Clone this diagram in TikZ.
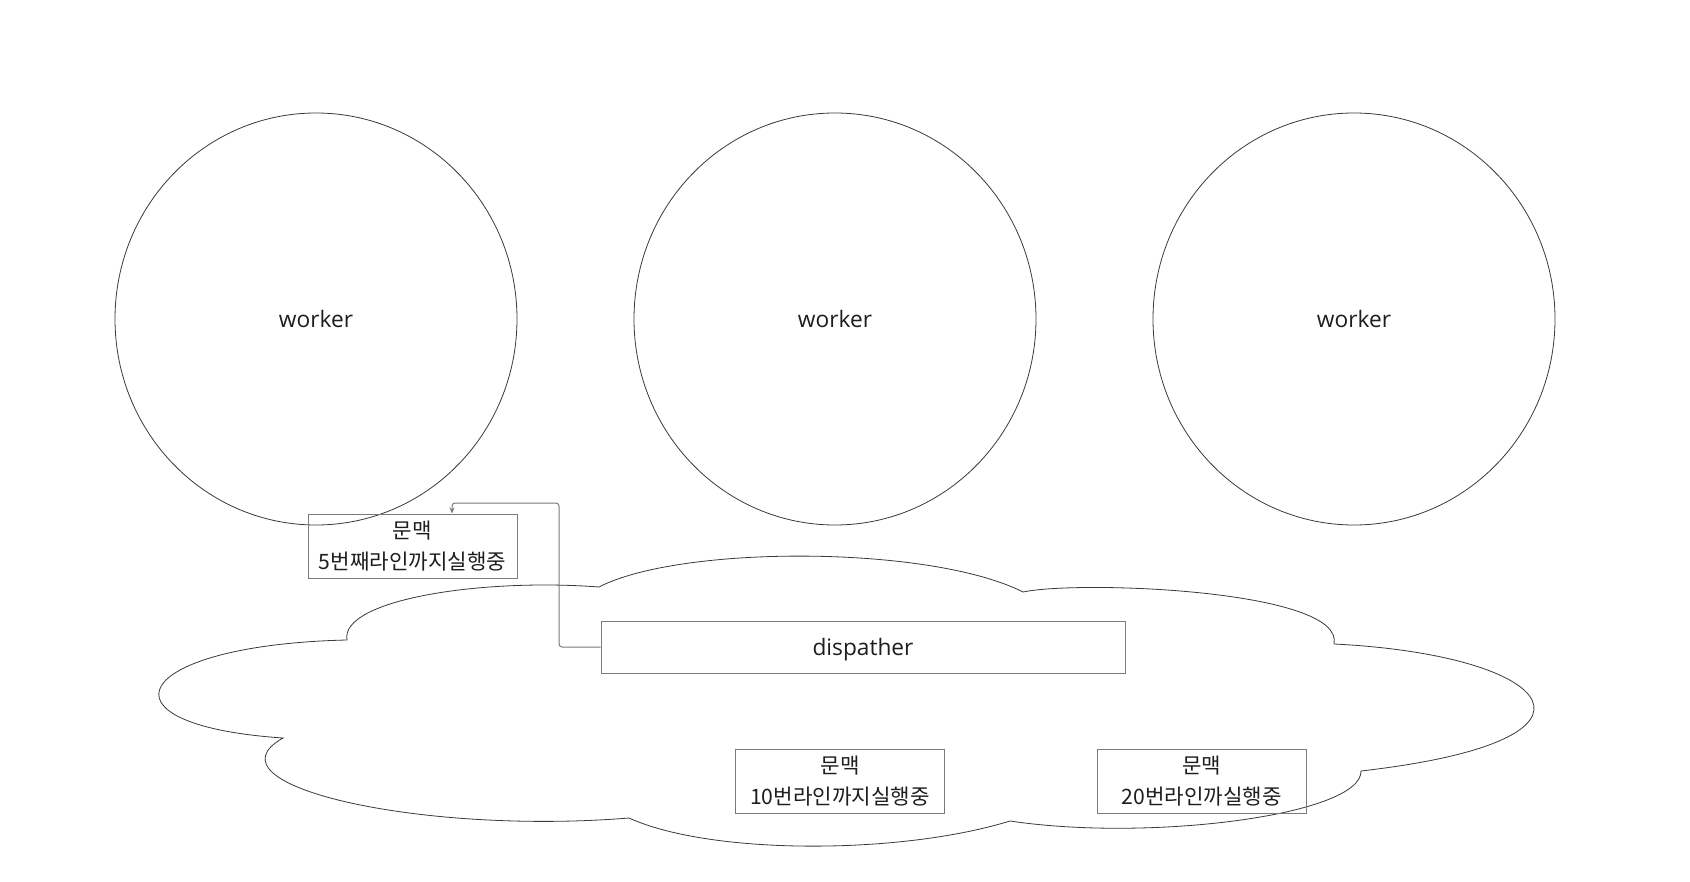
\documentclass[tikz,border=0pt]{standalone}
\usepackage{fontspec}
\setmainfont{Open Sans}
\newfontfamily\kr{Noto Sans CJK KR}
\usetikzlibrary{shapes.geometric,arrows.meta}
\definecolor{txt}{HTML}{1E1E1E}
\definecolor{edge}{HTML}{3A3A3A}
\definecolor{boxline}{HTML}{7A7A7A}
\tikzset{
  worker/.style={ellipse, draw=edge, line width=0.8pt, minimum width=402pt, minimum height=412pt, inner sep=0pt, text=txt, font=\fontsize{22.7}{27}\selectfont},
  ctxbox/.style={rectangle, draw=boxline, line width=1.0pt, minimum width=209pt, minimum height=64pt, inner sep=0pt, align=center, text=txt, font=\kr\fontsize{21.2}{31}\selectfont},
  dispbox/.style={rectangle, draw=boxline, line width=1.0pt, minimum width=524pt, minimum height=52pt, inner sep=0pt, text depth=0pt, text=txt, font=\fontsize{22.7}{27}\selectfont},
  cloudline/.style={draw=edge, line width=0.8pt},
  conn/.style={draw=boxline, line width=1.0pt, rounded corners=3pt, -{Stealth[length=6pt,width=5pt]}}
}
\begin{document}
\begin{tikzpicture}[x=1pt,y=-1pt]
\fill[white] (0,0) rectangle (1690,882);
\useasboundingbox (0,0) rectangle (1690,882);
% cloud
\draw[cloudline] (347,640)
  .. controls (340,600) and (480,578) .. (599,587)
  .. controls (680,545) and (930,545) .. (1023,592)
  .. controls (1080,580) and (1345,590) .. (1334,644)
  .. controls (1555,655) and (1632,740) .. (1361,771)
  .. controls (1362,815) and (1150,842) .. (1010,821)
  .. controls (900,855) and (710,855) .. (629,818)
  .. controls (420,835) and (200,785) .. (283,738)
  .. controls (90,725) and (130,645) .. cycle;
% workers
\node[worker] (w1) at (316,319) {worker};
\node[worker] (w2) at (835,319) {worker};
\node[worker] (w3) at (1354,319) {worker};
% boxes
\node[ctxbox] (c1) at (412.5,546) {문맥\\5번째라인까지실행중};
\node[ctxbox] (c2) at (840,781) {문맥\\10번라인까지실행중};
\node[ctxbox] (c3) at (1201.5,781) {문맥\\20번라인까실행중};
\node[dispbox] (d) at (863,647) {dispather};
% connector
\coordinate (k1) at (559,503);
\coordinate (k2) at (452,503);
\draw[conn] (d.west) -| (k1) -- (k2) -- (k2 |- c1.north);
\end{tikzpicture}
\end{document}
